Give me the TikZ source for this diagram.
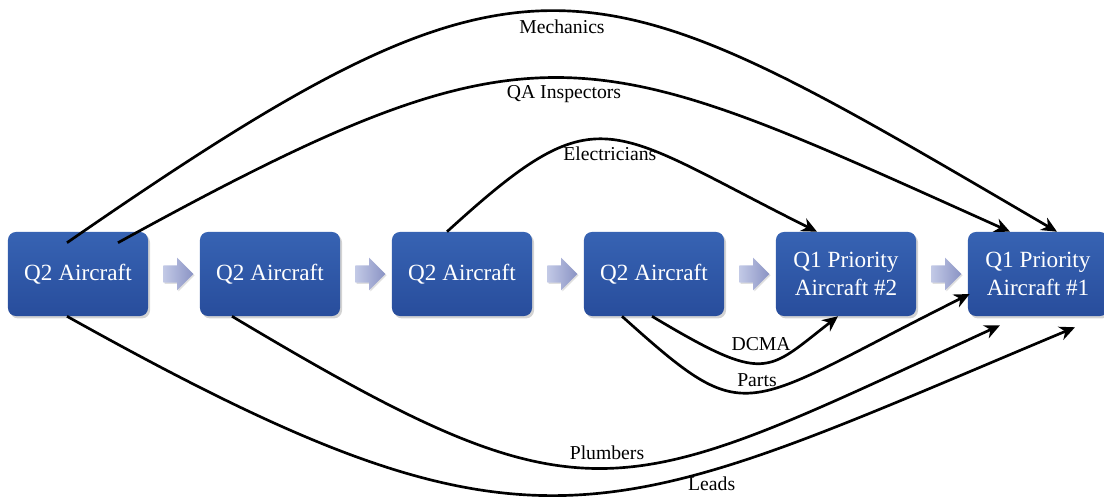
\documentclass[tikz,border=0pt]{standalone}
\usepackage{fontspec}
\setmainfont{Liberation Serif}
\usetikzlibrary{arrows.meta,calc,shapes.arrows,shadows}
\definecolor{boxtop}{HTML}{3763B3}
\definecolor{boxbot}{HTML}{284D9C}
\definecolor{steplite}{HTML}{C2C9E6}
\definecolor{stepdark}{HTML}{8A93C4}
\tikzset{
  plane/.style={draw=none, rounded corners=0.2cm, top color=boxtop, bottom color=boxbot,
    drop shadow={opacity=0.35, shadow xshift=0.05cm, shadow yshift=-0.06cm},
    minimum width=3.5cm, minimum height=2.1cm, inner sep=0pt, text=white, align=center,
    font=\fontsize{16.5}{20.5}\selectfont},
  nextarrow/.style={single arrow, draw=none, left color=steplite, right color=stepdark,
    inner xsep=0pt, inner ysep=0.21cm, minimum height=0.75cm,
    single arrow head extend=0.19cm,
    drop shadow={opacity=0.25, shadow xshift=0.03cm, shadow yshift=-0.03cm}},
  crew/.style={line width=1.9pt, arrows={-Stealth[length=11pt, width=10pt, inset=3.5pt]}},
  crewlabel/.style={font=\fontsize{14}{17}\selectfont, inner sep=2pt}
}
\begin{document}
\begin{tikzpicture}[x=0.025cm, y=-0.025cm]
\useasboundingbox (0,0) rectangle (1104,500);
\node[plane] (b1) at (78,274) {Q2 Aircraft};
\node[plane] (b2) at (270,274) {Q2 Aircraft};
\node[plane] (b3) at (462,274) {Q2 Aircraft};
\node[plane] (b4) at (654,274) {Q2 Aircraft};
\node[plane] (b5) at (846,274) {Q1 Priority\\Aircraft \#2};
\node[plane] (b6) at (1038,274) {Q1 Priority\\Aircraft \#1};
\node[nextarrow] (n1) at ($(b1.east)!0.5!(b2.west)$) {};
\node[nextarrow] (n2) at ($(b2.east)!0.5!(b3.west)$) {};
\node[nextarrow] (n3) at ($(b3.east)!0.5!(b4.west)$) {};
\node[nextarrow] (n4) at ($(b4.east)!0.5!(b5.west)$) {};
\node[nextarrow] (n5) at ($(b5.east)!0.5!(b6.west)$) {};
\draw[crew] ($(b1.north)+(-11,11)$) .. controls (539,-84) and (585,-44) .. ($(b6.north)+(19,0)$)
  node[crewlabel, pos=0.5, below=3pt] {Mechanics};
\draw[crew] ($(b1.north)+(40,11)$) .. controls (543,9) and (585,41) .. ($(b6.north)+(-28,0)$)
  node[crewlabel, pos=0.5, below=2pt] {QA Inspectors};
\draw[crew] ($(b3.north)+(-15,0)$) .. controls (600,92) and (605,126) .. ($(b5.north)+(-29,0)$)
  node[crewlabel, pos=0.5, below=2pt] {Electricians};
\draw[crew] ($(b4.south)+(-2,0)$) .. controls (767,385) and (766,372) .. ($(b5.south)+(-8,0)$)
  node[crewlabel, pos=0.5, above=6pt] {DCMA};
\draw[crew] ($(b4.south)+(-32,0)$) .. controls (751,432) and (737,410) .. ($(b6.west)+(2,20)$)
  node[crewlabel, pos=0.5, above=1pt] {Parts};
\draw[crew] ($(b2.south)+(-38,0)$) .. controls (593,532) and (615,502) .. ($(b6.south)+(-38,9)$)
  node[crewlabel, pos=0.5, above=3pt] {Plumbers};
\draw[crew] ($(b1.south)+(-11,0)$) .. controls (539,580) and (603,525) .. ($(b6.south)+(37,11)$)
  node[crewlabel, pos=0.67, below=2pt] {Leads};
\end{tikzpicture}
\end{document}
